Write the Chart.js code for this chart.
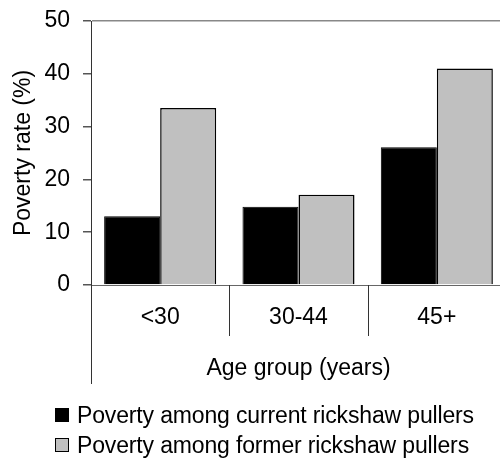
<!DOCTYPE html>
<html lang="en">
    <head>
        <meta charset="utf-8" />
        <title>Poverty rate by age group</title>
        <style>
            html,
            body {
                margin: 0;
                padding: 0;
                width: 500px;
                height: 464px;
                overflow: hidden;
                background: #ffffff;
                font-family: "Liberation Sans", Arial, sans-serif;
            }
            .chart-box {
                position: absolute;
                left: 0;
                top: 0;
                width: 506px;
                height: 464px;
            }
            .legend {
                position: absolute;
                left: 55px;
                top: 400px;
                font-size: 23px;
                letter-spacing: -0.15px;
                color: #000;
            }
            .legend-item {
                display: flex;
                align-items: center;
                height: 30px;
                white-space: nowrap;
            }
            .legend-swatch {
                width: 12px;
                height: 12px;
                border: 1px solid #000;
                margin-right: 8px;
            }
        </style>
    </head>
    <body>
        <div class="chart-box">
            <canvas id="povertyChart" width="506" height="464"></canvas>
        </div>
        <div class="legend" id="legend"></div>

        <script src="https://cdn.jsdelivr.net/npm/chart.js"></script>
        <script>
            const ageGroups = ["<30", "30-44", "45+"];
            const currentPullers = [13.0, 14.8, 26.1];
            const formerPullers = [33.5, 17.1, 41.0];
            const yTicks = [0, 10, 20, 30, 40, 50];

            const seriesLabels = [
                "Poverty among current rickshaw pullers",
                "Poverty among former rickshaw pullers",
            ];
            const seriesColors = ["#000000", "#c0c0c0"];

            // extra axis lines: left axis running down past the labels,
            // and the category separators below the baseline
            const axisExtras = {
                id: "axisExtras",
                afterDraw(chart) {
                    const { ctx, chartArea } = chart;
                    const x = chart.scales.x;
                    ctx.save();
                    ctx.strokeStyle = "#333";
                    ctx.lineWidth = 1;
                    ctx.beginPath();
                    ctx.moveTo(chartArea.left + 0.5, chartArea.bottom);
                    ctx.lineTo(chartArea.left + 0.5, 384);
                    for (let i = 1; i < ageGroups.length; i++) {
                        const px =
                            Math.round(
                                (x.getPixelForValue(i - 1) +
                                    x.getPixelForValue(i)) /
                                    2
                            ) + 0.5;
                        ctx.moveTo(px, chartArea.bottom);
                        ctx.lineTo(px, 336);
                    }
                    ctx.stroke();
                    ctx.restore();
                },
            };

            Chart.defaults.font.family = "'Liberation Sans', Arial, sans-serif";
            Chart.defaults.font.size = 23;
            Chart.defaults.color = "#000";

            new Chart(document.getElementById("povertyChart"), {
                type: "bar",
                data: {
                    labels: ageGroups,
                    datasets: [
                        {
                            label: seriesLabels[0],
                            data: currentPullers,
                            backgroundColor: seriesColors[0],
                            borderColor: "#000",
                            borderWidth: 1,
                        },
                        {
                            label: seriesLabels[1],
                            data: formerPullers,
                            backgroundColor: seriesColors[1],
                            borderColor: "#000",
                            borderWidth: 1.5,
                        },
                    ],
                },
                options: {
                    responsive: false,
                    animation: false,
                    events: [],
                    categoryPercentage: 0.81,
                    barPercentage: 1.0,
                    layout: {
                        padding: { top: 21, right: 0, bottom: 79, left: 0 },
                    },
                    plugins: {
                        legend: { display: false },
                        tooltip: { enabled: false },
                    },
                    scales: {
                        x: {
                            afterFit: (s) => {
                                s.height = 100;
                            },
                            grid: { display: false },
                            border: { color: "#666", width: 1 },
                            ticks: { padding: 11 },
                            title: {
                                display: true,
                                text: "Age group (years)",
                                padding: { top: 0, bottom: 3 },
                            },
                        },
                        y: {
                            min: 0,
                            max: 50,
                            afterFit: (s) => {
                                s.width = 91;
                                s.paddingTop = 0;
                                s.paddingBottom = 0;
                            },
                            afterBuildTicks: (s) => {
                                s.ticks = yTicks.map((v) => ({ value: v }));
                            },
                            border: { color: "#333", width: 1 },
                            grid: {
                                color: (c) =>
                                    c.tick && c.tick.value === 50
                                        ? "#888"
                                        : "transparent",
                                tickColor: "#555",
                                tickLength: 8,
                                lineWidth: 1.5,
                            },
                            ticks: { padding: 13 },
                            title: {
                                display: true,
                                text: "Poverty rate (%)",
                                padding: { top: 10, bottom: 0 },
                            },
                        },
                    },
                },
                plugins: [axisExtras],
            });

            const legendEl = document.getElementById("legend");
            seriesLabels.forEach((label, i) => {
                legendEl.innerHTML += `
          <div class="legend-item">
            <span class="legend-swatch" style="background:${seriesColors[i]}"></span>
            <span>${label}</span>
          </div>`;
            });
        </script>
    </body>
</html>
